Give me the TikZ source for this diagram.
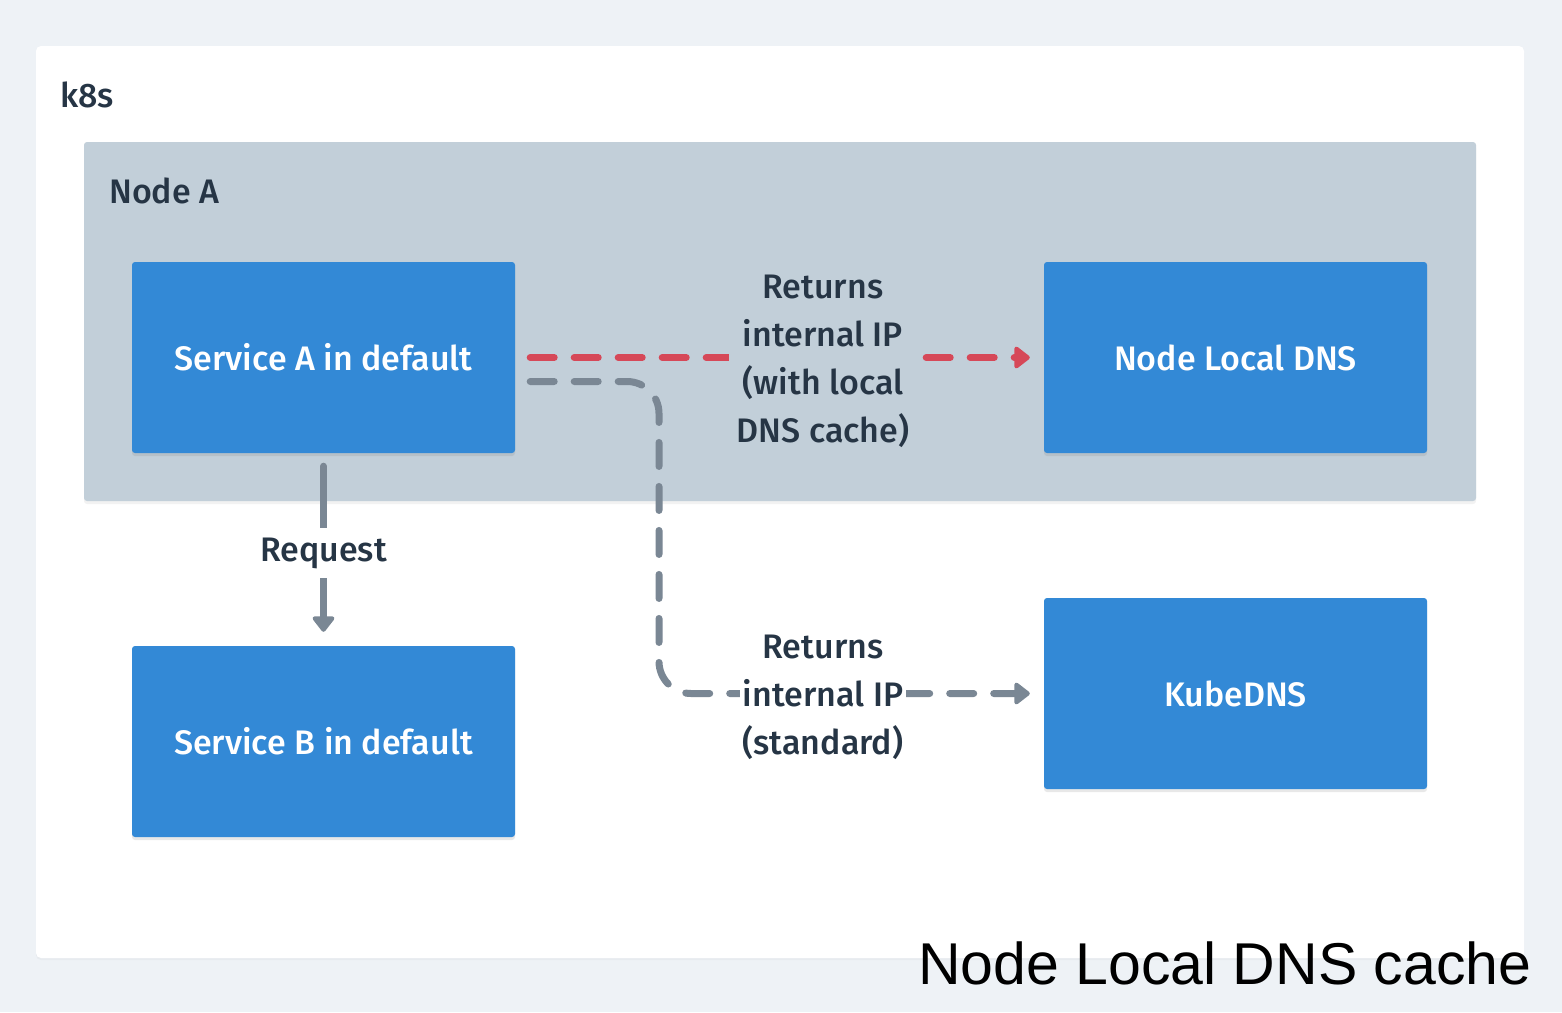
\documentclass[tikz,border=0pt]{standalone}
\usepackage{fontspec}
\setmainfont{Fira Sans Medium}
\newfontfamily\capfont{Liberation Sans}
\usetikzlibrary{arrows.meta,shadows,calc}
\definecolor{pagebg}{HTML}{EEF2F6}
\definecolor{nodebg}{HTML}{C2CFD9}
\definecolor{boxblue}{HTML}{3389D6}
\definecolor{txt}{HTML}{263545}
\definecolor{lgray}{HTML}{7A8794}
\definecolor{lred}{HTML}{D64858}
\tikzset{
  svcbox/.style={fill=boxblue, minimum width=383pt, minimum height=191pt, inner sep=0pt,
    rounded corners=3pt, text=white, font=\fontsize{34}{38}\selectfont,
    drop shadow={opacity=0.18, shadow xshift=0pt, shadow yshift=-3pt}},
  lbl/.style={text=txt, font=\fontsize{34}{48}\selectfont, align=center, inner sep=4pt},
  dashline/.style={line width=7pt, line cap=round, dash pattern=on 24pt off 20pt},
  tip/.style={-{Triangle[length=17pt,width=25pt,round]}}
}
\begin{document}
\begin{tikzpicture}[x=1pt,y=-1pt]
\useasboundingbox (0,0) rectangle (1562,1012);
\fill[pagebg] (0,0) rectangle (1562,1012);
\fill[white, rounded corners=5pt, drop shadow={opacity=0.06, shadow xshift=0pt, shadow yshift=-2pt}] (36,46) rectangle (1524,958);
\node[lbl, anchor=base west, inner sep=0pt] (k8s) at (60,107) {k8s};
\fill[nodebg, rounded corners=3pt, drop shadow={opacity=0.1, shadow xshift=0pt, shadow yshift=-3pt}] (84,142) rectangle (1476,501);
\node[lbl, anchor=base west, inner sep=0pt] (nodeA) at (109,203) {Node A};
\node[svcbox] (svcA) at (323.5,357.5) {Service A in default};
\node[svcbox] (nld) at (1235.5,357.5) {Node Local DNS};
\node[svcbox] (svcB) at (323.5,741.5) {Service B in default};
\node[svcbox] (kube) at (1235.5,693.5) {KubeDNS};
% red dashed: Service A -> Node Local DNS
\draw[dashline, lred, tip] ($(svcA.east)+(15,0)$) -- ($(nld.west)+(-14,0)$);
\node[lbl, fill=nodebg, inner xsep=8pt, inner ysep=0pt] (lblTop) at (823,361) {Returns\\internal IP\\(with local\\DNS cache)};
% gray dashed: Service A -> KubeDNS
\coordinate (g0) at ($(svcA.east)+(15,24)$);
\coordinate (g3) at ($(kube.west)+(-14,0)$);
\draw[dashline, lgray, tip, rounded corners=32pt] (g0) -- (g0 -| 659,0) -- (g3 -| 659,0) -- (g3);
\node[lbl, fill=white, inner xsep=3pt, inner ysep=0pt] (lblBot) at (823,697) {Returns\\internal IP\\(standard)};
% request
\draw[line width=7pt, line cap=round, lgray, tip] ($(svcA.south)+(0,13)$) -- ($(svcB.north)+(0,-14)$);
\node[lbl, fill=white, inner xsep=4pt, inner ysep=10pt] (req) at (323.5,553) {Request};
% caption
\node[anchor=base west, inner sep=0pt, text=black, font=\capfont\fontsize{59}{59}\selectfont] (cap) at (918,984) {Node Local DNS cache};
\end{tikzpicture}
\end{document}
